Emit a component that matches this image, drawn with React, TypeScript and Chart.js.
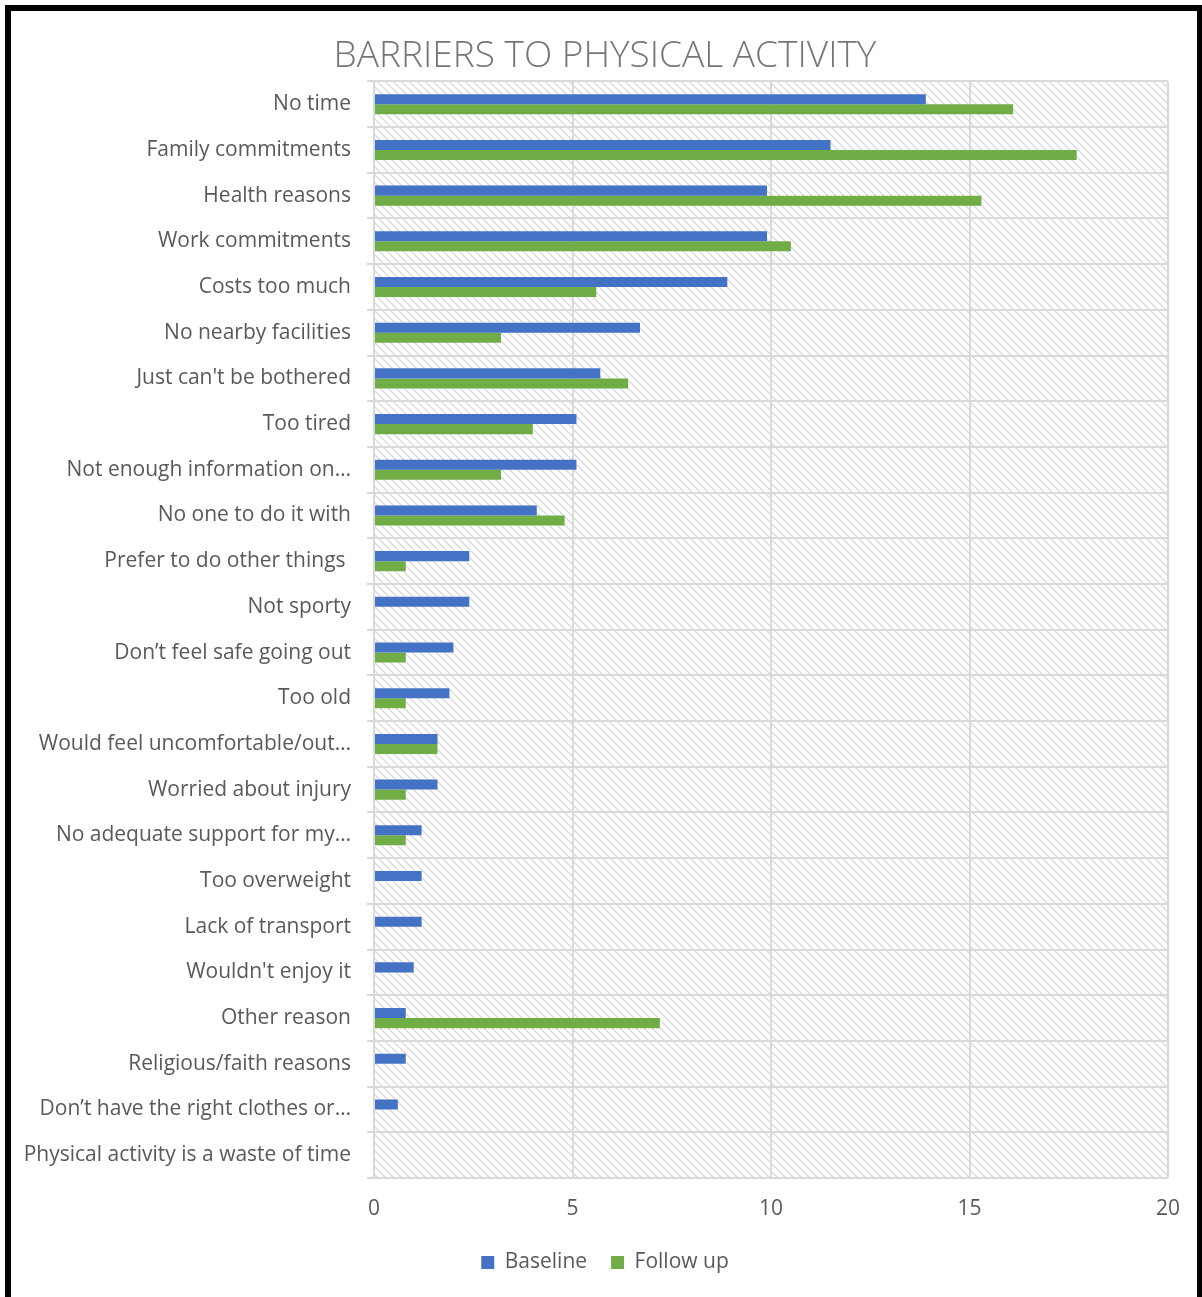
import React, { useEffect, useRef } from "react";
import { Chart, registerables } from "chart.js";
Chart.register(...registerables);

const categories = [
  "No time",
  "Family commitments",
  "Health reasons",
  "Work commitments",
  "Costs too much",
  "No nearby facilities",
  "Just can't be bothered",
  "Too tired",
  "Not enough information on…",
  "No one to do it with",
  "Prefer to do other things ",
  "Not sporty",
  "Don’t feel safe going out",
  "Too old",
  "Would feel uncomfortable/out…",
  "Worried about injury",
  "No adequate support for my…",
  "Too overweight",
  "Lack of transport",
  "Wouldn't enjoy it",
  "Other reason",
  "Religious/faith reasons",
  "Don’t have the right clothes or…",
  "Physical activity is a waste of time",
];
const baseline = [13.9, 11.5, 9.9, 9.9, 8.9, 6.7, 5.7, 5.1, 5.1, 4.1, 2.4, 2.4, 2.0, 1.9, 1.6, 1.6, 1.2, 1.2, 1.2, 1.0, 0.8, 0.8, 0.6, 0];
const followUp = [16.1, 17.7, 15.3, 10.5, 5.6, 3.2, 6.4, 4.0, 3.2, 4.8, 0.8, 0, 0.8, 0.8, 1.6, 0.8, 0.8, 0, 0, 0, 7.2, 0, 0, 0];
const seriesNames = ["Baseline", "Follow up"];
const xMin = 0;
const xMax = 20;
const xStep = 5;
const titleText = "BARRIERS TO PHYSICAL ACTIVITY";

const hatchPlugin = {
  id: "hatch",
  beforeDraw(chart: any) {
    const { ctx, chartArea } = chart;
    const tile = document.createElement("canvas");
    tile.width = 8;
    tile.height = 8;
    const t = tile.getContext("2d")!;
    t.strokeStyle = "#dadada";
    t.lineWidth = 1.4;
    t.beginPath();
    t.moveTo(-2, -2);
    t.lineTo(10, 10);
    t.moveTo(-2, 6);
    t.lineTo(2, 10);
    t.moveTo(6, -2);
    t.lineTo(10, 2);
    t.stroke();
    const pat = ctx.createPattern(tile, "repeat");
    ctx.save();
    ctx.fillStyle = pat;
    ctx.fillRect(chartArea.left, chartArea.top, chartArea.right - chartArea.left, chartArea.bottom - chartArea.top);
    ctx.restore();
  },
};

// let the category labels run past the y-axis box (they extend into the left padding)
const noClipPlugin = {
  id: "noclip",
  afterLayout(chart: any) {
    const y = chart.scales.y;
    if (y) y._computeLabelArea = () => undefined;
  },
};

export default function App() {
  const ref = useRef<HTMLCanvasElement>(null);
  useEffect(() => {
    document.body.style.margin = "0";
    document.body.style.overflow = "hidden";
    const font = { family: "'Open Sans'", size: 21 };
    const chart = new Chart(ref.current!, {
      type: "bar",
      data: {
        labels: categories,
        datasets: [
          { label: seriesNames[0], data: baseline, backgroundColor: "#4472C4", borderWidth: 0 },
          { label: seriesNames[1], data: followUp, backgroundColor: "#70AD47", borderWidth: 0 },
        ],
      },
      options: {
        indexAxis: "y",
        responsive: false,
        animation: false,
        devicePixelRatio: 1,
        datasets: { bar: { categoryPercentage: 0.44, barPercentage: 1 } },
        layout: { padding: { top: 20, right: 34, bottom: 14, left: 42 } },
        scales: {
          x: {
            min: xMin,
            max: xMax,
            afterFit: (s: any) => {
              s.height = 50;
            },
            ticks: { stepSize: xStep, padding: 18, color: "#595959", font },
            grid: { color: "#d9d9d9", lineWidth: 2, drawTicks: false },
            border: { display: false },
          },
          y: {
            afterFit: (s: any) => {
              s.width = 332;
            },
            ticks: { padding: 16, color: "#595959", font, autoSkip: false },
            grid: { color: "#d9d9d9", lineWidth: 2, tickLength: 7, offset: true },
            border: { color: "#d9d9d9", width: 2 },
          },
        },
        plugins: {
          title: {
            display: true,
            text: titleText,
            color: "#767676",
            font: { family: "'Open Sans'", size: 37, weight: "300" as any, lineHeight: 1.2 },
            padding: { top: 14, bottom: 3 },
          },
          legend: {
            position: "bottom",
            labels: { boxWidth: 13, boxHeight: 13, padding: 24, color: "#595959", font },
          },
          tooltip: { enabled: false },
        },
      },
      plugins: [hatchPlugin, noClipPlugin],
    });
    return () => chart.destroy();
  }, []);
  return (
    <div>
      <canvas ref={ref} width={1202} height={1297} style={{ position: "fixed", left: 0, top: 0 }} />
      <div
        style={{
          position: "fixed",
          left: 5,
          top: 5,
          width: 1198,
          height: 1320,
          border: "6px solid #000",
          boxSizing: "border-box",
          pointerEvents: "none",
        }}
      />
    </div>
  );
}
